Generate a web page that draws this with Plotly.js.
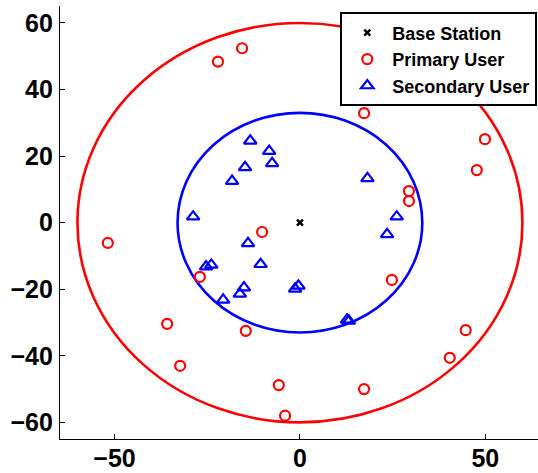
<!DOCTYPE html>
<html>
<head>
<meta charset="utf-8">
<script src="https://cdn.plot.ly/plotly-3.0.1.min.js"></script>
<style>html,body{margin:0;padding:0;background:#fff;}#chart{width:538px;height:473px;}</style>
</head>
<body>
<div id="chart"></div>
<script>
// Base station
const bsX = [0];
const bsY = [0];
// Primary users (red circles)
const puX = [-15.6, -22.1, 17.3, 49.9, 47.7, 29.4, 29.4, -10.2, -51.8, -27.0, 24.8, -35.8, -14.6, 44.7, -32.3, 40.4, -5.7, 17.3, -4.0];
const puY = [52.4, 48.4, 32.9, 25.1, 15.8, 9.5, 6.5, -2.8, -6.1, -16.3, -17.2, -30.4, -32.5, -32.3, -43.0, -40.6, -48.8, -50.0, -58.0];
// Secondary users (blue triangles)
const suX = [-13.4, -8.3, -7.5, -14.8, -18.3, -28.8, 18.2, 26.1, 23.5, -14.0, -10.6, -25.3, -23.9, -15.1, -16.2, -20.7, -0.4, -1.3, 12.7, 13.2];
const suY = [24.6, 21.5, 17.8, 16.6, 12.5, 1.8, 13.3, 1.8, -3.5, -6.2, -12.5, -13.2, -12.7, -19.5, -21.4, -23.2, -19.0, -19.9, -29.2, -29.5];
// Coverage radii
const primaryRadius = 60;
const secondaryRadius = 33;
// Ticks
const xTicks = [-50, 0, 50];
const yTicks = [-60, -40, -20, 0, 20, 40, 60];
const names = ['Base Station', 'Primary User', 'Secondary User'];

const FONT = 'Liberation Sans, Arial, Helvetica, sans-serif';

const traces = [
  {x: bsX, y: bsY, mode: 'markers', type: 'scatter', name: names[0],
   marker: {symbol: 'x-thin-open', size: 6, color: '#000', line: {color: '#000', width: 2.5}}},
  {x: puX, y: puY, mode: 'markers', type: 'scatter', name: names[1],
   marker: {symbol: 'circle-open', size: 10, color: '#ff0000', line: {color: '#ff0000', width: 2.2}}},
  {x: suX, y: suY, mode: 'markers', type: 'scatter', name: names[2],
   marker: {symbol: 'triangle-up-open', size: 11, color: '#0000ff', line: {color: '#0000ff', width: 2.2}}}
];

function circle(r, color) {
  return {type: 'circle', xref: 'x', yref: 'y', x0: -r, x1: r, y0: -r, y1: r,
          line: {color: color, width: 2.6}, layer: 'below'};
}

const layout = {
  width: 538, height: 473,
  margin: {l: 60, r: 0, t: 6, b: 34},
  paper_bgcolor: '#fff', plot_bgcolor: '#fff',
  showlegend: true,
  font: {family: FONT, size: 24, color: '#000', weight: 'bold'},
  xaxis: {range: [-64.7, 64.2], tickvals: xTicks, ticks: 'inside', ticklen: 5, tickwidth: 1,
          tickcolor: '#000', showline: true, linecolor: '#000', linewidth: 1.2, zeroline: false,
          showgrid: false, mirror: false,
          tickfont: {family: FONT, size: 25, color: '#000', weight: 'bold'}, ticklabelstandoff: -3},
  yaxis: {range: [-65, 65.1], tickvals: yTicks, ticks: 'inside', ticklen: 5, tickwidth: 1,
          tickcolor: '#000', showline: true, linecolor: '#000', linewidth: 1.2, zeroline: false,
          showgrid: false, mirror: false,
          tickfont: {family: FONT, size: 25, color: '#000', weight: 'bold'}, ticklabelstandoff: 1},
  shapes: [circle(primaryRadius, '#ff0000'), circle(secondaryRadius, '#0000ff')],
  legend: {x: 0.9985, xanchor: 'right', y: 0.985, yanchor: 'top',
           bgcolor: '#fff', bordercolor: '#000', borderwidth: 2,
           font: {family: FONT, size: 18, color: '#000', weight: 'bold'},
           tracegroupgap: 0, itemsizing: 'trace', itemwidth: 40}
};

Plotly.newPlot('chart', traces, layout, {displayModeBar: false, staticPlot: true});
</script>
</body>
</html>
